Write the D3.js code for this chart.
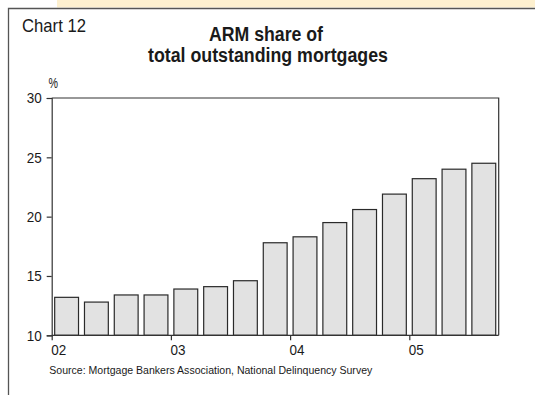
<!DOCTYPE html>
<html>
<head>
<meta charset="utf-8">
<script src="https://cdn.jsdelivr.net/npm/d3@7"></script>
<style>
  html, body { margin: 0; padding: 0; background: #fff; }
  svg { display: block; }
  text { font-family: "Liberation Sans", Arial, sans-serif; fill: #1a1a1a; }
</style>
</head>
<body>
<svg id="chart" width="535" height="395"></svg>
<script>
// Quarterly ARM share of total outstanding mortgages, 2002 Q1 – 2005 Q3 (%)
const quarters = ["02Q1","02Q2","02Q3","02Q4","03Q1","03Q2","03Q3","03Q4",
                  "04Q1","04Q2","04Q3","04Q4","05Q1","05Q2","05Q3"];
const armShare = [13.2, 12.8, 13.4, 13.4, 13.9, 14.1, 14.6, 17.8,
                  18.3, 19.5, 20.6, 21.9, 23.2, 24.0, 24.5];
const yTicks = [10, 15, 20, 25, 30];
const yearTicks = ["02Q1", "03Q1", "04Q1", "05Q1"];
const yearLabels = ["02", "03", "04", "05"];

const svg = d3.select("#chart");
const W = 535, H = 395;
const plot = { left: 51.7, right: 498.7, top: 98, bottom: 335.3 };

// Header strip and panel frame
svg.append("rect").attr("x", 57).attr("y", 0).attr("width", W - 57).attr("height", 7.5)
  .attr("fill", "#fdf0cf");
svg.append("path")
  .attr("d", `M8.5,${H} V8.5 H${W}`)
  .attr("fill", "none").attr("stroke", "#555").attr("stroke-width", 1.3);

// Headings
svg.append("text").attr("x", 22).attr("y", 31.5)
  .attr("font-size", 19).attr("textLength", 64).attr("lengthAdjust", "spacingAndGlyphs")
  .text("Chart 12");
svg.append("text").attr("x", 266).attr("y", 41).attr("text-anchor", "middle")
  .attr("font-size", 19.5).attr("font-weight", "bold")
  .attr("textLength", 114).attr("lengthAdjust", "spacingAndGlyphs")
  .text("ARM share of");
svg.append("text").attr("x", 268).attr("y", 61.5).attr("text-anchor", "middle")
  .attr("font-size", 19.5).attr("font-weight", "bold")
  .attr("textLength", 240).attr("lengthAdjust", "spacingAndGlyphs")
  .text("total outstanding mortgages");
svg.append("text").attr("x", 48.5).attr("y", 88).attr("font-size", 14.5)
  .attr("textLength", 9.5).attr("lengthAdjust", "spacingAndGlyphs").text("%");

// Scales
const x = d3.scaleBand().domain(quarters).range([plot.left, plot.right])
  .paddingInner(0.2).paddingOuter(0.1);
const y = d3.scaleLinear().domain([10, 30]).range([plot.bottom, plot.top]);
const bandStart = q => x(q) - x.step() * x.paddingInner() / 2;

// Bars
svg.append("g").selectAll("rect").data(armShare).join("rect")
  .attr("x", (d, i) => x(quarters[i]))
  .attr("y", d => y(d))
  .attr("width", x.bandwidth())
  .attr("height", d => y(10) - y(d))
  .attr("fill", "#e2e2e2")
  .attr("stroke", "#2a2a2a")
  .attr("stroke-width", 1.2);

// Plot box (top and right edges)
svg.append("path")
  .attr("d", `M${plot.left},${plot.top} H${plot.right} V${plot.bottom}`)
  .attr("fill", "none").attr("stroke", "#333").attr("stroke-width", 1.2);

// Condensed look for tick labels: fix each label's width per character
const narrow = sel => sel.attr("font-size", 15).attr("fill", "#111")
  .attr("font-family", "'Liberation Sans', Arial, sans-serif")
  .attr("lengthAdjust", "spacingAndGlyphs")
  .attr("textLength", function () { return this.textContent.length * 7.5; });

// Y axis
const yAxis = d3.axisLeft(y).tickValues(yTicks).tickSize(5).tickPadding(5).tickFormat(d3.format("d"));
const gy = svg.append("g").attr("transform", `translate(${plot.left},0)`).call(yAxis);
gy.select(".domain").attr("stroke", "#333").attr("stroke-width", 1.2);
gy.selectAll(".tick line").attr("stroke", "#333").attr("stroke-width", 1.2);
gy.selectAll(".tick text").call(narrow);

// X axis: year ticks at the start of each first-quarter band
const xYear = d3.scaleOrdinal().domain(yearTicks).range(yearTicks.map(bandStart));
const xAxis = d3.axisBottom(xYear).tickSize(5).tickPadding(4)
  .tickFormat((d, i) => yearLabels[i]);
const gx = svg.append("g").attr("transform", `translate(0,${plot.bottom})`).call(xAxis);
gx.select(".domain").remove();
gx.append("line").attr("x1", plot.left).attr("x2", plot.right)
  .attr("stroke", "#333").attr("stroke-width", 1.2);
gx.selectAll(".tick line").attr("stroke", "#333").attr("stroke-width", 1.2);
gx.selectAll(".tick text").call(narrow).attr("text-anchor", "start").attr("x", -1);

// Source note
svg.append("text").attr("x", 49.3).attr("y", 374).attr("font-size", 11.5)
  .attr("textLength", 323).attr("lengthAdjust", "spacingAndGlyphs")
  .text("Source:  Mortgage Bankers Association, National Delinquency Survey");
</script>
</body>
</html>
